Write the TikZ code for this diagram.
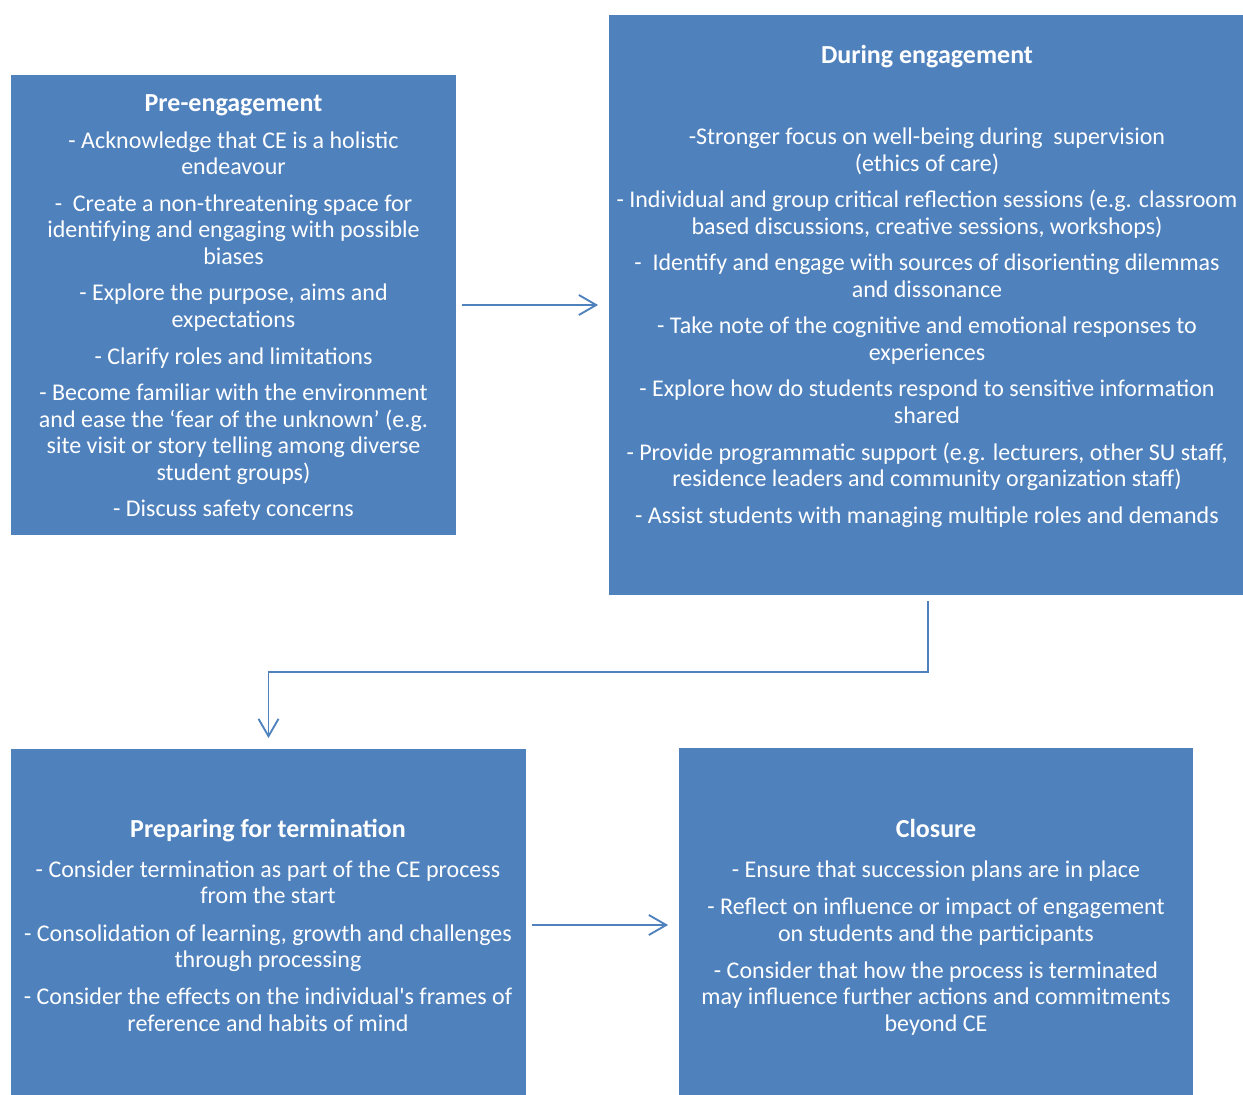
\documentclass[tikz,border=0pt]{standalone}
\usepackage{fontspec}
\setmainfont{Carlito}
\usepackage{xcolor}
\usepackage{tikz}
\usetikzlibrary{arrows.meta,positioning,calc}
\definecolor{CEBlue}{HTML}{4F81BD}
\newcommand{\stagehead}[1]{{\fontsize{19.5}{19.9}\selectfont\bfseries #1}}
\tikzset{
  stagebox/.style={draw=none,fill=CEBlue,inner sep=0pt},
  stagetext/.style={text=white,align=center,anchor=north,inner sep=0pt,
    font=\fontsize{18}{19.9}\selectfont},
  flowarrow/.style={-{Straight Barb[length=13pt,width=15pt,line width=1.4pt]},
    line width=1.4pt,CEBlue,shorten <=4.5pt,shorten >=8pt}
}

\begin{document}
\begin{tikzpicture}[x=0.75pt,y=-0.75pt]
  \useasboundingbox (0,0) rectangle (1243,1095);

  % the four stages
  \node[stagebox,minimum width=333.75pt,minimum height=345pt] (pre) at (233.5,305) {};
  \node[stagebox,minimum width=475.5pt,minimum height=435pt] (during) at (926,305) {};
  \node[stagebox,minimum width=386.25pt,minimum height=259.5pt] (prep) at (268.5,922) {};
  \node[stagebox,minimum width=385.5pt,minimum height=260.25pt] (closure) at (936,921.5) {};

  \node[stagetext] (pretext) at (233.5,94) {%
    \stagehead{Pre-engagement}\\[8pt]
    - Acknowledge that CE is a holistic\\ endeavour\\[7.5pt]
    -\ \ Create a non-threatening space for\\ identifying and engaging with possible\\ biases\\[7.5pt]
    - Explore the purpose, aims and\\ expectations\\[7.5pt]
    - Clarify roles and limitations\\[7.5pt]
    - Become familiar with the environment\\ and ease the ‘fear of the unknown’ (e.g.\\ site visit or story telling among diverse\\ student groups)\\[7.5pt]
    - Discuss safety concerns};

  \node[stagetext] (duringtext) at (927,45) {%
    \stagehead{During engagement}\\[41pt]
    -Stronger focus on well-being during\ \ supervision\\ (ethics of care)\\[7.5pt]
    - Individual and group critical reflection sessions (e.g. classroom\\ based discussions, creative sessions, workshops)\\[7.5pt]
    -\ \ Identify and engage with sources of disorienting dilemmas\\ and dissonance\\[7.5pt]
    - Take note of the cognitive and emotional responses to\\ experiences\\[7.5pt]
    - Explore how do students respond to sensitive information\\ shared\\[7.5pt]
    - Provide programmatic support (e.g. lecturers, other SU staff,\\ residence leaders and community organization staff)\\[7.5pt]
    - Assist students with managing multiple roles and demands};

  \node[stagetext] (preptext) at (268,819) {%
    \stagehead{Preparing for termination}\\[10pt]
    - Consider termination as part of the CE process\\ from the start\\[8pt]
    - Consolidation of learning, growth and challenges\\ through processing\\[8pt]
    - Consider the effects on the individual\textquotesingle s frames of\\ reference and habits of mind};

  \node[stagetext] (closuretext) at (936,819) {%
    \stagehead{Closure}\\[10pt]
    - Ensure that succession plans are in place\\[8pt]
    - Reflect on influence or impact of engagement\\ on students and the participants\\[8pt]
    - Consider that how the process is terminated\\ may influence further actions and commitments\\ beyond CE};

  % flow between stages
  \draw[flowarrow] (pre.east |- 0,305) -- (during.west |- 0,305);
  \draw[flowarrow] ([xshift=1.5pt]during.south) -- ([xshift=1.5pt]during.south |- 0,672) -| (prep.north);
  \draw[flowarrow] (prep.east |- 0,925) -- (closure.west |- 0,925);
\end{tikzpicture}
\end{document}
